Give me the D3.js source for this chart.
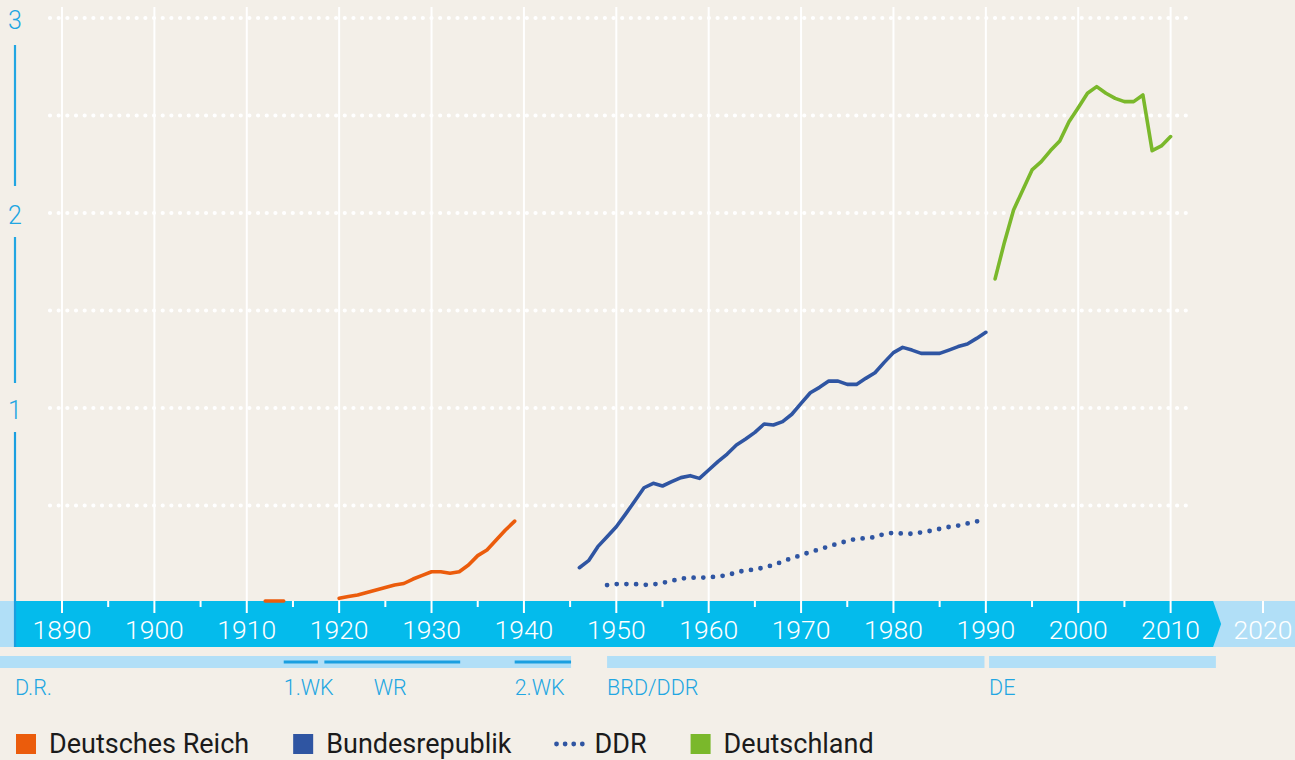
<!DOCTYPE html>
<html>
<head>
<meta charset="utf-8">
<script src="https://cdn.jsdelivr.net/npm/d3@7"></script>
<style>
body{margin:0;background:#f3efe8;}
svg{display:block;font-family:Roboto,"Liberation Sans",sans-serif;}
</style>
</head>
<body>
<svg id="chart" width="1295" height="760"></svg>
<script>
// ---- data ----
reichYears=[1912,1913,1914,1915,1916,1917,1918,1919,1920,1921,1922,1923,1924,1925,1926,1927,1928,1929,1930,1931,1932,1933,1934,1935,1936,1937,1938,1939]
reichValues=[0.01,0.01,0.01,null,null,null,null,null,0.024,0.033,0.041,0.054,0.067,0.08,0.092,0.1,0.123,0.142,0.16,0.16,0.153,0.16,0.195,0.243,0.272,0.323,0.374,0.42]

brdYears=d3.range(1946,1991)
brdValues=[0.181,0.217,0.289,0.34,0.391,0.456,0.523,0.591,0.614,0.6,0.622,0.643,0.653,0.639,0.682,0.725,0.764,0.81,0.841,0.875,0.918,0.913,0.93,0.968,1.024,1.078,1.106,1.138,1.138,1.121,1.121,1.152,1.181,1.234,1.284,1.311,1.297,1.28,1.28,1.28,1.297,1.315,1.328,1.357,1.388]

ddrYears=d3.range(1949,1991)
ddrValues=[0.092,0.097,0.097,0.097,0.093,0.095,0.103,0.114,0.125,0.13,0.13,0.131,0.137,0.142,0.157,0.168,0.171,0.183,0.194,0.213,0.23,0.245,0.262,0.275,0.29,0.305,0.318,0.33,0.332,0.338,0.354,0.36,0.356,0.355,0.362,0.37,0.38,0.39,0.397,0.408,0.418,0.436]

deYears=d3.range(1991,2011)
deValues=[1.662,1.848,2.015,2.118,2.221,2.263,2.32,2.369,2.468,2.54,2.614,2.648,2.614,2.588,2.571,2.571,2.605,2.32,2.344,2.392]

yTicks=[1,2,3]
gridValues=[0.5,1,1.5,2,2.5,3]
decadeTicks=d3.range(1890,2030,10)
minorTicks=d3.range(1895,2015,10)

periodLabels=["D.R.","BRD/DDR","DE"]
periodStart=[1871,1949,1990.35]
periodEnd=[1945.1,1989.85,2014.9]

warLabels=["1.WK","WR","2.WK"]
warStart=[1914,1918.4,1939]
warEnd=[1917.7,1933.1,1945.1]

legendLabels=["Deutsches Reich","Bundesrepublik","DDR","Deutschland"]

// ---- colours ----
ORANGE="#eb5c0c"
BLUE="#2f55a2"
GREEN="#7ab82b"
CYAN="#04bbec"
LIGHT="#b1dff7"
LABEL="#21a6e2"
DARK_LINE="#1a9fe0"

W=1295
H=760
BAND_TOP=601
BAND_BOTTOM=647

svg=d3.select("#chart")
svg.append("rect").attr("width",W).attr("height",H).attr("fill","#f3efe8")

x=d3.scaleLinear().domain([1890,2020]).range([62,1263])
y=d3.scaleLinear().domain([0,3]).range([603,18])

// vertical grid lines (one per decade, up to 2010)
svg.selectAll("line.vgrid")
    .data(decadeTicks.filter(function(d){return d<=2010}))
    .enter().append("line")
    .attr("class","vgrid")
    .attr("x1",function(d){return x(d)}).attr("x2",function(d){return x(d)})
    .attr("y1",7).attr("y2",BAND_TOP)
    .attr("stroke","#fff").attr("stroke-width",2)

// horizontal dotted grid
svg.selectAll("line.hgrid")
    .data(gridValues)
    .enter().append("line")
    .attr("class","hgrid")
    .attr("x1",50).attr("x2",1186)
    .attr("y1",function(d){return y(d)}).attr("y2",function(d){return y(d)})
    .attr("stroke","#fff").attr("stroke-width",4.2)
    .attr("stroke-linecap","round")
    .attr("stroke-dasharray","0 8.67")

// time band
svg.append("rect").attr("x",0).attr("y",BAND_TOP).attr("width",W).attr("height",BAND_BOTTOM-BAND_TOP).attr("fill",LIGHT)
var arrowEnd=x(2014.6)
svg.append("path")
    .attr("d","M15,"+BAND_TOP+"L"+arrowEnd+","+BAND_TOP+"L"+(arrowEnd+8)+","+((BAND_TOP+BAND_BOTTOM)/2)+"L"+arrowEnd+","+BAND_BOTTOM+"L15,"+BAND_BOTTOM+"Z")
    .attr("fill",CYAN)

// ticks in the band
svg.selectAll("line.major")
    .data(decadeTicks)
    .enter().append("line")
    .attr("class","major")
    .attr("x1",function(d){return x(d)}).attr("x2",function(d){return x(d)})
    .attr("y1",BAND_TOP).attr("y2",613)
    .attr("stroke","#fff").attr("stroke-width",2)
svg.selectAll("line.minor")
    .data(minorTicks)
    .enter().append("line")
    .attr("class","minor")
    .attr("x1",function(d){return x(d)}).attr("x2",function(d){return x(d)})
    .attr("y1",BAND_TOP).attr("y2",607)
    .attr("stroke","#fff").attr("stroke-width",2)
svg.selectAll("text.year")
    .data(decadeTicks)
    .enter().append("text")
    .attr("class","year")
    .attr("x",function(d){return x(d)})
    .attr("y",639)
    .attr("text-anchor","middle")
    .attr("font-size","26.5px").attr("font-weight",300)
    .attr("fill","#fff")
    .text(function(d){return d})

// y axis: line with gaps at the labels
var axisSegs=[[y(3)+27,y(2)-27],[y(2)+24,y(1)-25],[y(1)+24,BAND_BOTTOM]]
axisSegs.forEach(function(s){
    svg.append("line").attr("x1",15).attr("x2",15).attr("y1",s[0]).attr("y2",s[1])
        .attr("stroke",s[1]==BAND_BOTTOM?DARK_LINE:LABEL).attr("stroke-width",2.2)
})
svg.selectAll("text.ylab")
    .data(yTicks)
    .enter().append("text")
    .attr("class","ylab")
    .attr("x",15)
    .attr("y",function(d){return y(d)+11})
    .attr("text-anchor","middle")
    .attr("font-size","25px").attr("font-weight",300)
    .attr("fill",LABEL)
    .text(function(d){return d})

// period bars
periodLabels.forEach(function(p,i){
    var x0=Math.max(0,x(periodStart[i])), x1=x(periodEnd[i])
    svg.append("rect").attr("x",x0).attr("y",656).attr("width",x1-x0).attr("height",12).attr("fill",LIGHT)
    svg.append("text").attr("x",Math.max(15,x0)).attr("y",695)
        .attr("font-size","21.5px").attr("font-weight",300).attr("fill",LABEL)
        .text(p)
})
warLabels.forEach(function(w,i){
    var x0=x(warStart[i]), x1=x(warEnd[i])
    svg.append("line").attr("x1",x0).attr("x2",x1).attr("y1",662).attr("y2",662)
        .attr("stroke",DARK_LINE).attr("stroke-width",3)
    var mid=(w=="WR")
    svg.append("text").attr("x",mid?(x0+x1)/2-2:x0).attr("y",695)
        .attr("text-anchor",mid?"middle":"start")
        .attr("font-size","21.5px").attr("font-weight",300).attr("fill",LABEL)
        .text(w)
})

// series
function drawLine(years,values,color,dotted){
    var pts=years.map(function(yr,i){return [yr,values[i]]})
    var line=d3.line()
        .defined(function(d){return d[1]!=null})
        .x(function(d){return x(d[0])})
        .y(function(d){return y(d[1])})
    var p=svg.append("path").datum(pts)
        .attr("d",line)
        .attr("fill","none")
        .attr("stroke",color)
        .attr("stroke-linejoin","round")
    if(dotted){
        p.attr("stroke-width",4.8).attr("stroke-linecap","round").attr("stroke-dasharray","0 9.7")
    }else{
        p.attr("stroke-width",3.6).attr("stroke-linecap","round")
    }
}
drawLine(reichYears,reichValues,ORANGE,false)
drawLine(brdYears,brdValues,BLUE,false)
drawLine(ddrYears,ddrValues,BLUE,true)
drawLine(deYears,deValues,GREEN,false)

// legend (kept just inside the bottom edge)
var legendColors=[ORANGE,BLUE,BLUE,GREEN]
var lx=16
legendLabels.forEach(function(l,i){
    var g=svg.append("g").attr("transform","translate("+lx+",0)")
    var symW=20
    if(l=="DDR"){
        symW=26
        g.append("line").attr("x1",1).attr("x2",27).attr("y1",744).attr("y2",744)
            .attr("stroke",legendColors[i]).attr("stroke-width",4.8)
            .attr("stroke-linecap","round").attr("stroke-dasharray","0 8.6")
    }else{
        g.append("rect").attr("x",0).attr("y",734).attr("width",20).attr("height",20).attr("fill",legendColors[i])
    }
    var t=g.append("text").attr("x",symW+13).attr("y",753)
        .attr("font-size","27px").attr("fill","#1b1b1b")
        .text(l)
    lx+=symW+13+t.node().getComputedTextLength()+44
})
</script>
</body>
</html>
